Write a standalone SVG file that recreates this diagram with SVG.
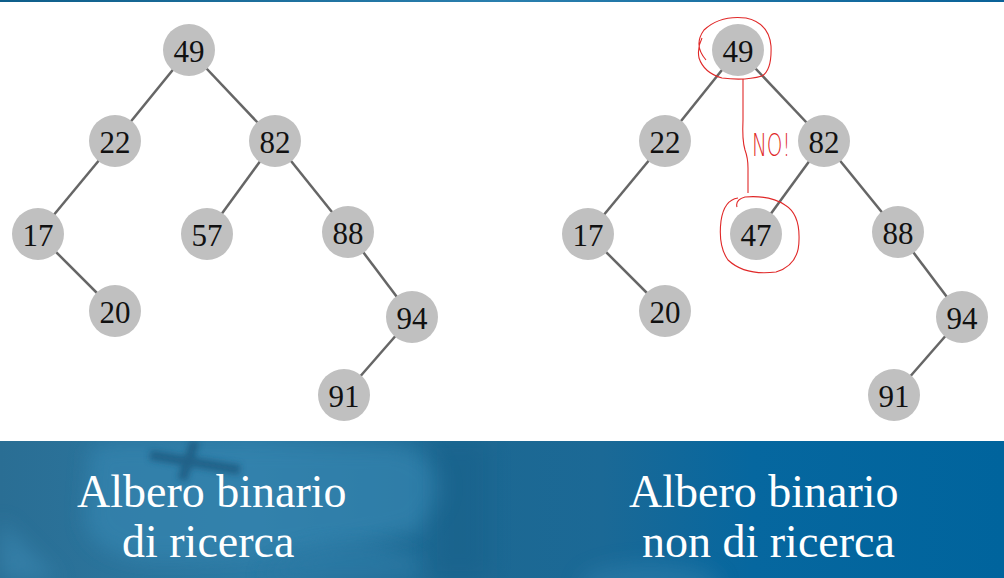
<svg xmlns="http://www.w3.org/2000/svg" width="1004" height="578" viewBox="0 0 1004 578">
<defs>
<linearGradient id="topline" x1="0" y1="0" x2="1" y2="0">
<stop offset="0" stop-color="#0e5e8a"/><stop offset="0.5" stop-color="#2a7fae"/><stop offset="1" stop-color="#0a6298"/>
</linearGradient>
<linearGradient id="banner" x1="0" y1="0" x2="1" y2="0">
<stop offset="0" stop-color="#2a6e94"/>
<stop offset="0.25" stop-color="#2c7aa4"/>
<stop offset="0.45" stop-color="#1d6892"/>
<stop offset="0.6" stop-color="#1b6996"/>
<stop offset="0.75" stop-color="#06679f"/>
<stop offset="1" stop-color="#00649d"/>
</linearGradient>
<filter id="blur" x="-50%" y="-50%" width="200%" height="200%"><feGaussianBlur stdDeviation="10"/></filter>
<filter id="blur2" x="-50%" y="-50%" width="200%" height="200%"><feGaussianBlur stdDeviation="3"/></filter>
<clipPath id="bclip"><rect x="0" y="441" width="1004" height="137"/></clipPath>
</defs>
<style>
.edge{stroke:#666;stroke-width:2.5;fill:none}
.node circle{fill:#c0c0c0}
.node text{font-family:"Liberation Serif","Times New Roman",serif;font-size:31px;fill:#111;text-anchor:middle}
.red{stroke:#e02828;stroke-width:1.1;fill:none}
.cap{font-family:"Liberation Serif","Times New Roman",serif;font-size:46px;fill:#fff}
</style>
<rect width="1004" height="578" fill="#fff"/>
<rect x="0" y="0" width="1004" height="2" fill="url(#topline)"/>
<g id="banner-bg" clip-path="url(#bclip)">
<rect x="0" y="441" width="1004" height="137" fill="url(#banner)"/>
<path d="M90 450 Q100 440 140 442 L400 445 Q450 460 440 500 L420 530 Q300 560 150 560 Q90 555 85 520 Z" fill="#3585b0" opacity="0.7" filter="url(#blur)"/>
<path d="M0 520 L60 580 L0 580 Z" fill="#3a88b2" opacity="0.6" filter="url(#blur)"/>
<path d="M150 455 L240 470 M195 441 L182 480" stroke="#1a5a80" stroke-width="10" opacity="0.8" filter="url(#blur2)"/>
<path d="M260 578 Q330 520 420 560 L420 578 Z" fill="#2d7da8" opacity="0.6" filter="url(#blur)"/>
<rect x="430" y="441" width="60" height="137" fill="#185e88" opacity="0.4" filter="url(#blur)"/>
<ellipse cx="650" cy="585" rx="70" ry="22" fill="#2f7eaa" opacity="0.6" filter="url(#blur)"/>
</g>
<g id="edges">
<line class="edge" x1="189" y1="50" x2="115" y2="141"/>
<line class="edge" x1="189" y1="50" x2="275" y2="141"/>
<line class="edge" x1="115" y1="141" x2="38" y2="234"/>
<line class="edge" x1="275" y1="141" x2="207" y2="234"/>
<line class="edge" x1="275" y1="141" x2="348" y2="232"/>
<line class="edge" x1="38" y1="234" x2="115" y2="311"/>
<line class="edge" x1="348" y1="232" x2="412" y2="317"/>
<line class="edge" x1="412" y1="317" x2="344" y2="395"/>
<line class="edge" x1="738" y1="50" x2="665" y2="141"/>
<line class="edge" x1="738" y1="50" x2="824" y2="141"/>
<line class="edge" x1="665" y1="141" x2="588" y2="234"/>
<line class="edge" x1="824" y1="141" x2="756" y2="234"/>
<line class="edge" x1="824" y1="141" x2="898" y2="232"/>
<line class="edge" x1="588" y1="234" x2="665" y2="311"/>
<line class="edge" x1="898" y1="232" x2="962" y2="317"/>
<line class="edge" x1="962" y1="317" x2="894" y2="395"/>
</g>
<g id="n49a" class="node"><circle cx="189" cy="50" r="26"/><text x="189" y="62">49</text></g>
<g id="n22a" class="node"><circle cx="115" cy="141" r="26"/><text x="115" y="153">22</text></g>
<g id="n82a" class="node"><circle cx="275" cy="141" r="26"/><text x="275" y="153">82</text></g>
<g id="n17a" class="node"><circle cx="38" cy="234" r="26"/><text x="38" y="246">17</text></g>
<g id="n57a" class="node"><circle cx="207" cy="234" r="26"/><text x="207" y="246">57</text></g>
<g id="n88a" class="node"><circle cx="348" cy="232" r="26"/><text x="348" y="244">88</text></g>
<g id="n20a" class="node"><circle cx="115" cy="311" r="26"/><text x="115" y="323">20</text></g>
<g id="n94a" class="node"><circle cx="412" cy="317" r="26"/><text x="412" y="329">94</text></g>
<g id="n91a" class="node"><circle cx="344" cy="395" r="26"/><text x="344" y="407">91</text></g>
<g id="n49b" class="node"><circle cx="738" cy="50" r="26"/><text x="738" y="62">49</text></g>
<g id="n22b" class="node"><circle cx="665" cy="141" r="26"/><text x="665" y="153">22</text></g>
<g id="n82b" class="node"><circle cx="824" cy="141" r="26"/><text x="824" y="153">82</text></g>
<g id="n17b" class="node"><circle cx="588" cy="234" r="26"/><text x="588" y="246">17</text></g>
<g id="n47b" class="node"><circle cx="756" cy="234" r="26"/><text x="756" y="246">47</text></g>
<g id="n88b" class="node"><circle cx="898" cy="232" r="26"/><text x="898" y="244">88</text></g>
<g id="n20b" class="node"><circle cx="665" cy="311" r="26"/><text x="665" y="323">20</text></g>
<g id="n94b" class="node"><circle cx="962" cy="317" r="26"/><text x="962" y="329">94</text></g>
<g id="n91b" class="node"><circle cx="894" cy="395" r="26"/><text x="894" y="407">91</text></g>
<g id="annotation">
<path class="red" d="M706 60 Q693 45 704 30 Q720 15 746 18 Q769 23 771 46 Q772 70 762 76 Q745 81 722 78 Q704 73 699 58 Q697 48 702 38"/>
<path class="red" d="M743 79 L743 120 Q742 140 745 150 Q748 158 748 168 L748 193"/>
<path class="red" d="M738 198 Q724 200 721 221 Q718 246 728 260 Q745 276 776 272 Q799 265 799 240 Q800 214 785 205 Q770 195 745 197 Q735 200 737 207"/>
<text x="0" y="0" font-family="'DejaVu Sans',sans-serif" font-weight="200" font-size="32" fill="#e02828" transform="translate(752 156) scale(0.62 1)">NO!</text>
</g>
<g id="captions">
<text class="cap" x="77" y="507">Albero binario</text>
<text class="cap" x="122" y="557">di ricerca</text>
<text class="cap" x="629" y="507">Albero binario</text>
<text class="cap" x="642" y="557">non di ricerca</text>
</g>
</svg>
